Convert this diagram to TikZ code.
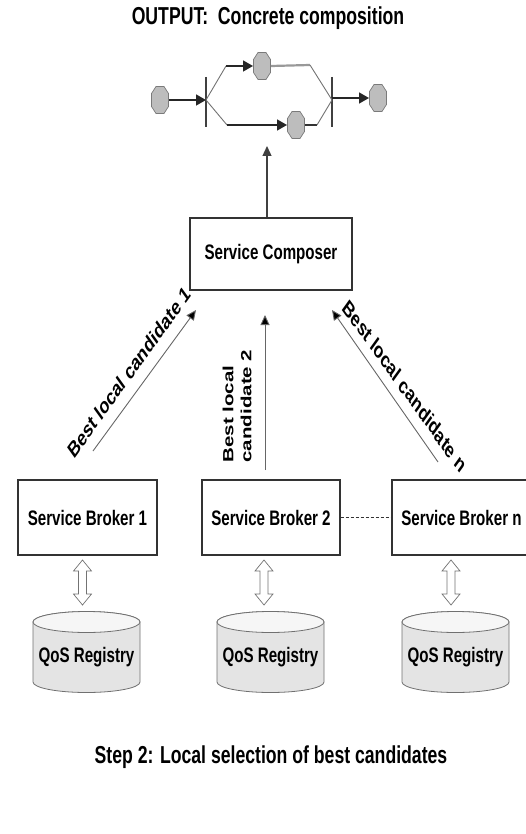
\documentclass[tikz,border=0pt]{standalone}
\usepackage{fontspec}
\setmainfont{Liberation Sans}[FakeStretch=0.72]
\newfontfamily\labfont{Liberation Sans}
\usetikzlibrary{arrows.meta,calc}
\definecolor{hexfill}{HTML}{BDBDBD}
\definecolor{hexdraw}{HTML}{7A7A7A}
\definecolor{dbbody}{HTML}{E4E4E4}
\definecolor{dbtop}{HTML}{F6F6F6}
\definecolor{dbline}{HTML}{707070}
\tikzset{
  boxnode/.style={draw=black!80, line width=1.1pt, fill=white, inner sep=0pt,
    font=\fontsize{21}{23}\selectfont\bfseries},
  hexnode/.style={minimum width=18pt, minimum height=28pt, inner sep=0pt, outer sep=0pt,
    path picture={\filldraw[fill=hexfill, draw=hexdraw, line width=0.7pt]
      ([shift={(-4pt,13.5pt)}]path picture bounding box.center) --
      ([shift={(4pt,13.5pt)}]path picture bounding box.center) --
      ([shift={(8.5pt,6.5pt)}]path picture bounding box.center) --
      ([shift={(8.5pt,-6.5pt)}]path picture bounding box.center) --
      ([shift={(4pt,-13.5pt)}]path picture bounding box.center) --
      ([shift={(-4pt,-13.5pt)}]path picture bounding box.center) --
      ([shift={(-8.5pt,-6.5pt)}]path picture bounding box.center) --
      ([shift={(-8.5pt,6.5pt)}]path picture bounding box.center) -- cycle;}},
  bar/.style={draw=black!75, line width=1.2pt},
  comparrow/.style={draw=black!85, line width=1.6pt, -{Triangle[length=10pt,width=11pt]}},
  compline/.style={draw=black!80, line width=1.6pt},
  thinline/.style={draw=black!55, line width=0.9pt},
  grayline/.style={draw=black!40, line width=2.2pt},
  uparrow/.style={draw=black!75, line width=1.3pt, -{Triangle[length=10pt,width=9pt]}},
  cand/.style={draw=black!60, line width=0.9pt, -{Triangle[length=10pt,width=9pt,fill=black]}},
  lab/.style={font=\labfont\fontsize{20.5}{25}\selectfont\bfseries, inner sep=1pt},
  diaglab/.style={font=\labfont\fontsize{22}{25}\selectfont\bfseries, inner sep=1pt},
  titlefont/.style={font=\fontsize{24.5}{27}\selectfont\bfseries},
  dbtext/.style={font=\fontsize{21}{23}\selectfont\bfseries, inner sep=0pt},
  dblarr/.pic={\filldraw[fill=white, draw=black!55, line width=0.7pt]
    (0,-22.5) -- (9,-11.5) -- (4,-11.5) -- (4,11.5) -- (9,11.5) -- (0,22.5) --
    (-9,11.5) -- (-4,11.5) -- (-4,-11.5) -- (-9,-11.5) -- cycle;},
  qosdb/.pic={
    \filldraw[fill=dbbody, draw=dbline, line width=0.8pt]
      (-53.5,-30) -- (-53.5,30) arc[start angle=180, end angle=360, x radius=53.5pt, y radius=10.5pt]
      -- (53.5,-30) arc[start angle=0, end angle=180, x radius=53.5pt, y radius=10.5pt] -- cycle;
    \filldraw[fill=dbtop, draw=dbline, line width=0.8pt] (0,-30) ellipse[x radius=53.5pt, y radius=10.5pt];}
}
\begin{document}
\begin{tikzpicture}[x=1pt,y=-1pt]
\useasboundingbox (0,0) rectangle (526,834);

% title
\node[titlefont] (title) at (268,18) {OUTPUT:\ \ Concrete composition};

% concrete composition
\node[hexnode] (h1) at (160,100) {};
\node[hexnode] (h2) at (262,66) {};
\node[hexnode] (h3) at (296,125) {};
\node[hexnode] (h4) at (378,98) {};
\coordinate (Ltop) at (206,77);
\coordinate (Lbot) at (206,127);
\coordinate (L) at (206,100);
\coordinate (Rtop) at (332,77);
\coordinate (Rbot) at (332,127);
\coordinate (R) at (332,100);
\coordinate (a1) at (226,66);
\coordinate (a2) at (227,125);
\coordinate (a3) at (317,125);
\coordinate (a4) at (310,65);
\draw[bar] (Ltop) -- (Lbot);
\draw[bar] (Rtop) -- (Rbot);
\draw[comparrow] (h1.east) -- (L);
\draw[thinline] (L) -- (a1);
\draw[comparrow] (a1) -- (h2.west);
\draw[grayline] (h2.east) -- (a4);
\draw[thinline] (a4) -- (R);
\draw[thinline] (L) -- (a2);
\draw[comparrow] (a2) -- (h3.west);
\draw[compline] (h3.east) -- (a3);
\draw[thinline] (a3) -- (R);
\draw[comparrow] (h4.west -| R) -- (h4.west);

% composer
\node[boxnode, minimum width=162, minimum height=72] (comp) at (271,254) {Service Composer};
\coordinate (outtip) at (267,146);
\draw[uparrow] (comp.north -| outtip) -- (outtip);

% brokers
\node[boxnode, minimum width=139, minimum height=75] (b1) at (87.5,517.5) {Service Broker 1};
\node[boxnode, minimum width=138, minimum height=75] (b2) at (271,517.5) {Service Broker 2};
\node[boxnode, minimum width=139, minimum height=75] (bn) at (461.5,517.5) {Service Broker n};
\draw[black!80, line width=0.9pt, dash pattern=on 3pt off 2pt] (b2.east) -- (bn.west);

% candidate arrows
\coordinate (s1) at (93,451);
\coordinate (e1) at (196,310);
\coordinate (s2) at (265,470);
\coordinate (e2) at (265,315);
\coordinate (sn) at (438,462);
\coordinate (en) at (332,310);
\draw[cand] (s1) -- (e1);
\draw[cand] (s2) -- (e2);
\draw[cand] (sn) -- (en);
\node[diaglab, xscale=0.72, rotate=45] (lab1) at (129,372) {Best local candidate 1};
\node[lab, rotate=90, yscale=0.72, align=left] (lab2) at (237,406) {Best local\\candidate 2};
\node[diaglab, xscale=0.72, rotate=-45] (labn) at (405,386) {Best local candidate n};

% registries
\pic at (82.5,582.5) {dblarr};
\pic at (264,582.5) {dblarr};
\pic at (451,582.5) {dblarr};
\pic at (86.5,652) {qosdb};
\pic at (270.5,652) {qosdb};
\pic at (455.5,652) {qosdb};
\node[dbtext] (db1) at (86.5,657) {QoS Registry};
\node[dbtext] (db2) at (270.5,657) {QoS Registry};
\node[dbtext] (dbn) at (455.5,657) {QoS Registry};

% caption
\node[titlefont] (cap) at (271,757) {Step 2: Local selection of best candidates};
\end{tikzpicture}
\end{document}
